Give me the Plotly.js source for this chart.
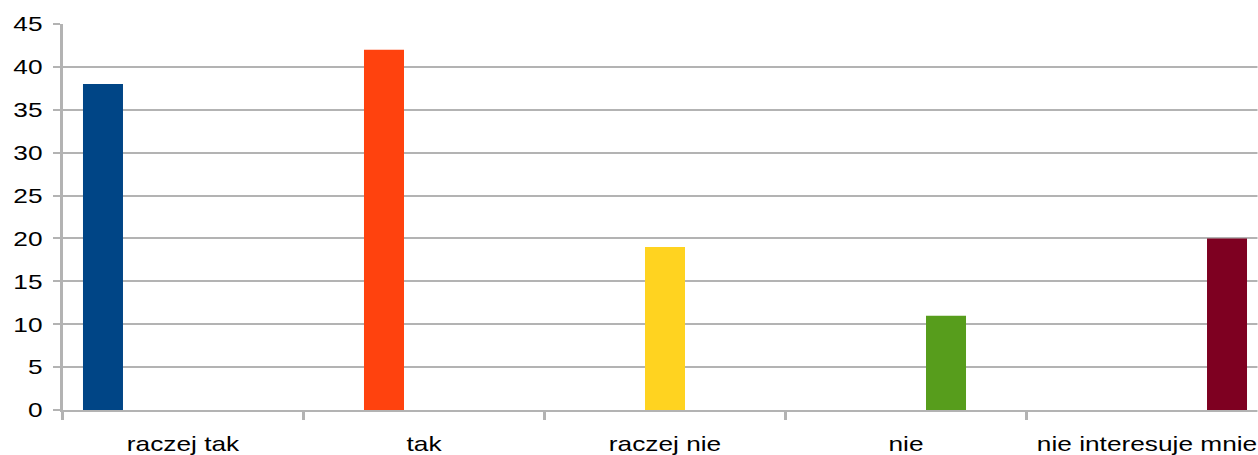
<!DOCTYPE html>
<html>
<head>
<meta charset="utf-8">
<script src="https://cdn.plot.ly/plotly-3.0.1.min.js"></script>
<style>
html,body{margin:0;padding:0;background:#fff;overflow:hidden;width:1258px;height:455px}
#wrap{width:1006px;height:455px;transform:scaleX(1.25);transform-origin:0 0}
</style>
</head>
<body>
<div id="wrap"><div id="chart" style="width:1006px;height:455px"></div></div>
<script>
const categories = ["raczej tak", "tak", "raczej nie", "nie", "nie interesuje mnie"];
const values = [38, 42, 19, 11, 20];
const colors = ["#004586", "#ff420e", "#ffd320", "#579d1c", "#7e0021"];
const yTicks = [0, 5, 10, 15, 20, 25, 30, 35, 40, 45];

const traces = categories.map((c, i) => ({
  type: "bar",
  x: categories,
  y: categories.map((_, j) => j === i ? values[i] : null),
  marker: {color: colors[i], line: {width: 0}},
  name: c,
  hoverinfo: "x+y"
}));

const layout = {
  width: 1006, height: 455,
  margin: {l: 49.6, r: 0, t: 24, b: 45, pad: 0},
  paper_bgcolor: "#ffffff", plot_bgcolor: "#ffffff",
  showlegend: false,
  barmode: "group",
  bargap: 0.17,
  bargroupgap: 0,
  font: {family: "Liberation Sans, Arial, sans-serif", size: 21, color: "#000000"},
  xaxis: {
    type: "category",
    range: [-0.5, 4.4585],
    tickson: "boundaries",
    ticks: "outside", ticklen: 8, tickwidth: 1.8, tickcolor: "#b3b3b3",
    showgrid: false,
    showline: true, linecolor: "#b3b3b3", linewidth: 2,
    tickfont: {size: 21, color: "#000000"},
    ticklabelstandoff: 14,
    fixedrange: true
  },
  yaxis: {
    range: [0, 45],
    tickvals: yTicks,
    ticktext: yTicks.map(String),
    ticks: "outside", ticklen: 5.6, tickwidth: 2, tickcolor: "#b3b3b3",
    showgrid: true, gridcolor: "#b3b3b3", gridwidth: 2,
    zeroline: false,
    showline: true, linecolor: "#b3b3b3", linewidth: 2.2,
    tickfont: {size: 21, color: "#000000"},
    ticklabelstandoff: 4,
    fixedrange: true
  }
};

Plotly.newPlot("chart", traces, layout, {displayModeBar: false, staticPlot: true});
</script>
</body>
</html>
